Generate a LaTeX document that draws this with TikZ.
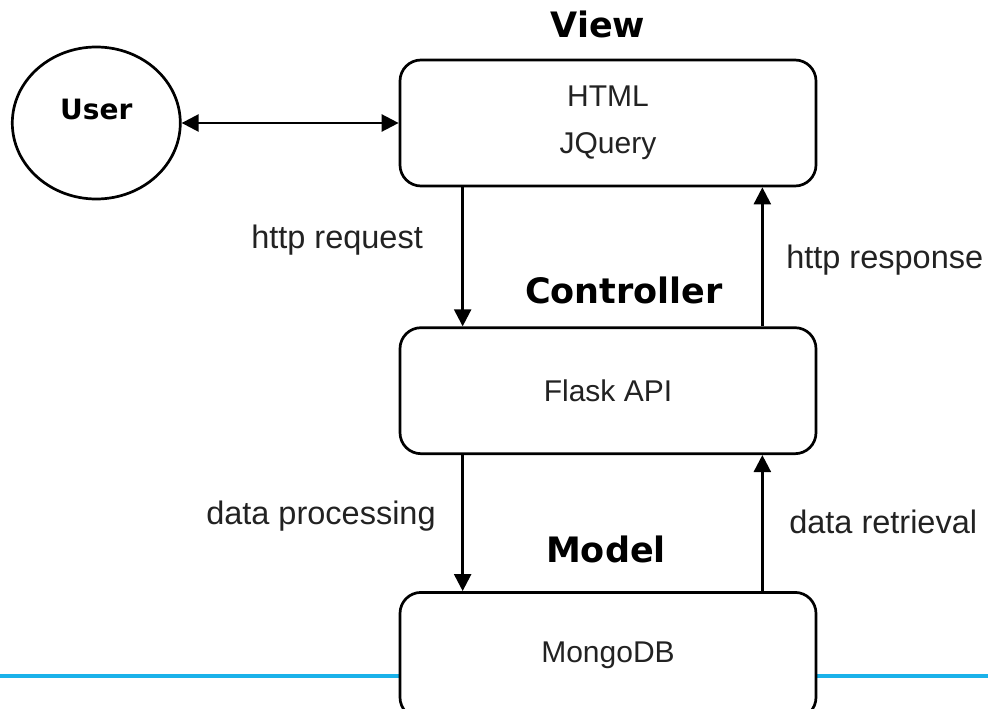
\documentclass[tikz,border=0pt]{standalone}
\usepackage{fontspec}
\setmainfont{Liberation Sans}
\newfontfamily\headfont{DejaVu Sans}
\usetikzlibrary{positioning}
\usetikzlibrary{shapes.geometric}
\usetikzlibrary{arrows.meta}
\definecolor{accent}{RGB}{26,178,234}
\definecolor{ink}{RGB}{34,34,34}

\begin{document}
\begin{tikzpicture}[x=1pt,y=-1pt,->,>={Triangle[length=17pt,width=17pt]},line width=2.5pt]
		\tikzstyle{layer}=[draw,fill=white,rounded corners=21pt,minimum width=416pt,minimum height=126pt,inner sep=0pt,line width=2.7pt,text=ink,font=\fontsize{30}{47}\selectfont,align=center]
		\tikzstyle{title}=[anchor=base,inner sep=0pt,font=\headfont\bfseries\fontsize{35}{42}\selectfont]
		\tikzstyle{tag}=[anchor=base west,inner sep=0pt,text=ink,font=\fontsize{32.5}{39}\selectfont]

		\clip (0,0) rectangle (988,709);
		\draw[-,accent,line width=3.5pt] (0,676) -- (988,676);

		\node[layer]       (V)    at (608,123)       {HTML\\JQuery};
		\node[layer]       (C)    [below=139pt of V] {Flask API};
		\node[layer]       (M)    [below=136pt of C] {MongoDB};
		\node[draw,ellipse,line width=2.7pt,minimum width=168pt,minimum height=152pt,
			label={[font=\headfont\bfseries\fontsize{28}{34}\selectfont,yshift=14pt]center:User}]
		                   (U)    [left=217pt of V]  {};

		\node[title]       (tV)   at (598,38)        {View};
		\node[title]       (tC)   at (624,303)       {Controller};
		\node[title]       (tM)   at (606,562)       {Model};

		\node[tag]         (req)  at (250,248)       {http request};
		\node[tag]         (res)  at (785,268)       {http response};
		\node[tag]         (proc) at (205,524)       {data processing};
		\node[tag]         (ret)  at (788,533)       {data retrieval};

		\draw[<->] (U) -- (V);
		\draw ([xshift=64pt]C.north west |- V.south) -- ([xshift=64pt]C.north west);
		\draw ([xshift=-55pt]C.north east) -- ([xshift=-55pt]C.north east |- V.south);
		\draw ([xshift=64pt]M.north west |- C.south) -- ([xshift=64pt]M.north west);
		\draw ([xshift=-55pt]M.north east) -- ([xshift=-55pt]M.north east |- C.south);
\end{tikzpicture}
\end{document}
